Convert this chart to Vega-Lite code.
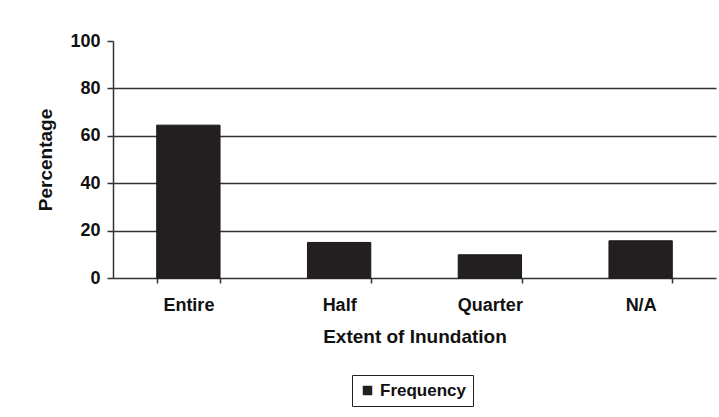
{
  "$schema": "https://vega.github.io/schema/vega-lite/v6.json",
  "autosize": {"type": "none"},
  "width": 603,
  "height": 237,
  "padding": {"left": 113, "top": 41, "right": 3, "bottom": 139},
  "background": "white",
  "data": {
    "values": [
      {"extent": "Entire", "pct": 64.5, "series": "Frequency"},
      {"extent": "Half", "pct": 15, "series": "Frequency"},
      {"extent": "Quarter", "pct": 9.8, "series": "Frequency"},
      {"extent": "N/A", "pct": 15.7, "series": "Frequency"}
    ]
  },
  "mark": {"type": "bar", "stroke": "#1a1a1a", "strokeWidth": 1},
  "encoding": {
    "x": {
      "field": "extent",
      "type": "nominal",
      "sort": ["Entire", "Half", "Quarter", "N/A"],
      "scale": {"paddingInner": 0.58, "paddingOuter": 0.29},
      "axis": {
        "title": "Extent of Inundation",
        "labelAngle": 0,
        "tickBand": "extent",
        "grid": false,
        "domainColor": "#333",
        "domainWidth": 1.5,
        "tickColor": "#333",
        "tickSize": 5,
        "tickWidth": 1.5,
        "labelPadding": 13,
        "titlePadding": 13
      }
    },
    "y": {
      "field": "pct",
      "type": "quantitative",
      "scale": {"domain": [0, 100], "nice": false},
      "axis": {
        "title": "Percentage",
        "values": [0, 20, 40, 60, 80, 100],
        "grid": true,
        "gridColor": {"condition": {"test": "datum.value === 100 || datum.value === 0", "value": "transparent"}, "value": "#333"},
        "gridWidth": 1.5,
        "domainColor": "#333",
        "domainWidth": 1.5,
        "tickColor": "#333",
        "tickSize": 6,
        "tickWidth": 1.5,
        "labelPadding": 7,
        "titlePadding": 14
      }
    },
    "color": {
      "field": "series",
      "type": "nominal",
      "scale": {"range": ["#231f20"]},
      "legend": {
        "title": null,
        "orient": "none",
        "legendX": 239,
        "legendY": 334,
        "direction": "horizontal",
        "symbolType": "square",
        "symbolSize": 90,
        "symbolStrokeWidth": 0,
        "strokeColor": "#222",
        "padding": 7,
        "labelOffset": 4,
        "labelFontSize": 17,
        "labelFont": "Liberation Sans",
        "labelFontWeight": "bold",
        "labelColor": "#111"
      }
    }
  },
  "config": {
    "view": {"stroke": null},
    "axis": {
      "labelFont": "Liberation Sans",
      "labelFontWeight": "bold",
      "labelFontSize": 18,
      "labelColor": "#111",
      "titleFont": "Liberation Sans",
      "titleFontWeight": "bold",
      "titleFontSize": 19,
      "titleColor": "#111"
    }
  }
}
